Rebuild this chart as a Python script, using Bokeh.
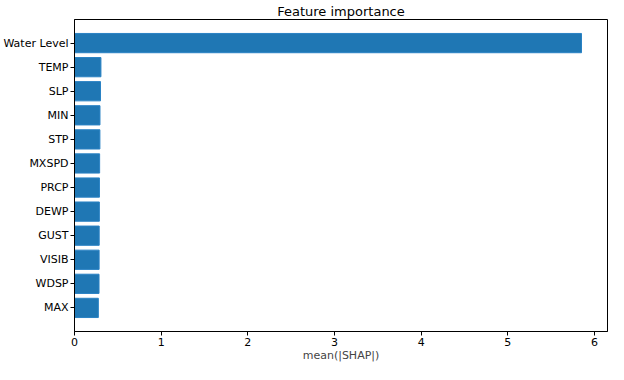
from bokeh.plotting import figure
from bokeh.models import Range1d, FactorRange, ColumnDataSource, FixedTicker
from bokeh.embed import file_html
from bokeh.resources import INLINE

features = ["Water Level", "TEMP", "SLP", "MIN", "STP", "MXSPD", "PRCP",
            "DEWP", "GUST", "VISIB", "WDSP", "MAX"]
importance = [5.85, 0.305, 0.30, 0.294, 0.293, 0.29, 0.288, 0.287, 0.285, 0.284, 0.283, 0.275]
x_ticks = [0, 1, 2, 3, 4, 5, 6]

src = ColumnDataSource(dict(feature=features, value=importance))

FONT = "DejaVu Sans"
p = figure(width=608, height=364, output_backend="svg", toolbar_location=None,
           y_range=FactorRange(factors=list(reversed(features)), range_padding=0.08),
           x_range=Range1d(0, 6.15),
           title="Feature importance",
           min_border_left=69, min_border_right=1, min_border_top=0, min_border_bottom=0)

p.hbar(y="feature", right="value", left=0, height=0.8, source=src,
       fill_color="#1f77b4", line_color="#2a82c4", line_width=1)

p.title.align = "center"
p.title.text_font = FONT
p.title.text_font_size = "13px"
p.title.text_font_style = "normal"
p.title.text_color = "black"
p.title.standoff = 2
p.title.offset = 0

p.xgrid.visible = False
p.ygrid.visible = False
p.outline_line_color = "black"
p.outline_line_width = 1
p.outline_line_alpha = 1

p.xaxis.ticker = FixedTicker(ticks=x_ticks)
p.xaxis.axis_label = "mean(|SHAP|)"
for ax in (p.xaxis[0], p.yaxis[0]):
    ax.major_label_text_font = FONT
    ax.major_label_text_font_size = "11px"
    ax.major_label_text_color = "black"
    ax.axis_label_text_font = FONT
    ax.axis_label_text_font_size = "11px"
    ax.axis_label_text_font_style = "normal"
    ax.axis_line_color = "black"
    ax.major_tick_line_color = "black"
    ax.minor_tick_line_color = None
    ax.major_tick_out = 4
    ax.major_tick_in = 0
    ax.major_label_standoff = 2
    ax.axis_label_standoff = 0

p.background_fill_color = "white"
p.border_fill_color = "white"

open("out.html", "w").write(file_html(p, INLINE))
